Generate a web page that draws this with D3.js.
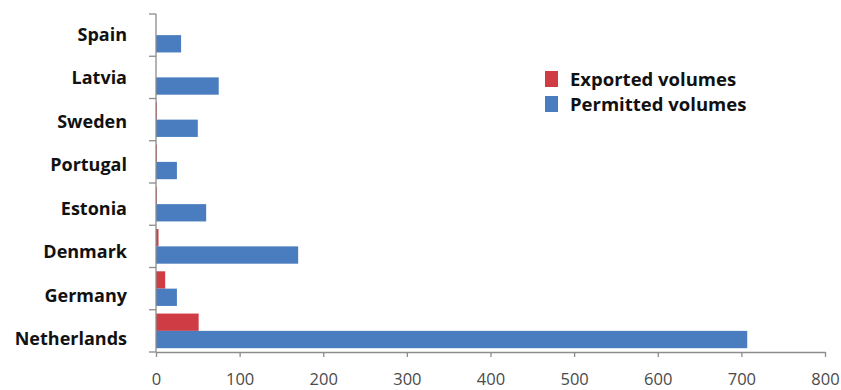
<!DOCTYPE html>
<html>
<head>
<meta charset="utf-8">
<script src="https://cdn.jsdelivr.net/npm/d3@7"></script>
<style>
  html, body { margin: 0; padding: 0; background: #fff; }
  svg { display: block; }
</style>
</head>
<body>
<svg id="chart" width="841" height="390"></svg>
<script>
// Countries, top to bottom
const countries = ["Spain", "Latvia", "Sweden", "Portugal", "Estonia", "Denmark", "Germany", "Netherlands"];
// Volumes per country
const exportedVolumes = [0, 0, 1, 1, 1, 3, 11, 51];
const permittedVolumes = [30, 75, 50, 25, 60, 170, 25, 707];
const seriesNames = ["Exported volumes", "Permitted volumes"];
const seriesColors = ["#cf3c44", "#4a7dc0"];
const xTicks = [0, 100, 200, 300, 400, 500, 600, 700, 800];

const svg = d3.select("#chart");
const plot = { left: 156, right: 825, top: 14, bottom: 352 };

const x = d3.scaleLinear().domain([0, 800]).range([plot.left, plot.right]);
const y = d3.scaleBand().domain(countries).range([plot.top, plot.bottom]).paddingInner(0).paddingOuter(0);
const inner = d3.scaleBand().domain(seriesNames).range([0, y.bandwidth()]).paddingInner(0).paddingOuter(0.22);
// Category labels sit on their own slightly wider spacing
const labelY = d3.scalePoint().domain(countries).range([34, 338]);

const rows = countries.map((c, i) => ({ country: c, values: [exportedVolumes[i], permittedVolumes[i]] }));

// Bars
const g = svg.append("g");
rows.forEach(r => {
  r.values.forEach((v, k) => {
    g.append("rect")
      .attr("x", x(0))
      .attr("y", y(r.country) + inner(seriesNames[k]))
      .attr("width", Math.max(0, x(v) - x(0)))
      .attr("height", inner.bandwidth())
      .attr("fill", seriesColors[k]);
  });
});

// Bottom axis
const xAxis = svg.append("g")
  .attr("transform", `translate(0,${plot.bottom})`)
  .call(d3.axisBottom(x).tickValues(xTicks).tickSize(5).tickSizeOuter(0).tickPadding(16));
xAxis.select(".domain").attr("stroke", "#8c8c8c").attr("stroke-width", 1.3);
xAxis.selectAll(".tick line").attr("stroke", "#8c8c8c").attr("stroke-width", 1.3);
xAxis.selectAll(".tick text")
  .attr("fill", "#4a4a4a")
  .style("font-family", "'Open Sans', sans-serif")
  .style("font-size", "16.5px");

// Left axis: ticks on band boundaries
const boundaries = countries.map(c => y(c)).concat([plot.bottom]);
svg.append("line")
  .attr("x1", plot.left).attr("x2", plot.left)
  .attr("y1", plot.top).attr("y2", plot.bottom)
  .attr("stroke", "#8c8c8c").attr("stroke-width", 1.3);
svg.append("g").selectAll("line").data(boundaries).join("line")
  .attr("x1", plot.left - 7).attr("x2", plot.left)
  .attr("y1", d => d).attr("y2", d => d)
  .attr("stroke", "#8c8c8c").attr("stroke-width", 1.3);

svg.append("g").selectAll("text").data(countries).join("text")
  .attr("x", 127)
  .attr("y", d => labelY(d))
  .attr("text-anchor", "end")
  .attr("dominant-baseline", "central")
  .style("font-family", "'Open Sans', sans-serif")
  .style("font-weight", "bold")
  .style("font-size", "18px")
  .attr("fill", "#111")
  .text(d => d);

// Legend
const legend = svg.append("g").attr("transform", "translate(545,71)");
seriesNames.forEach((n, k) => {
  const row = legend.append("g").attr("transform", `translate(0,${k * 25})`);
  row.append("rect").attr("x", 0).attr("y", 0).attr("width", 13).attr("height", 16).attr("fill", seriesColors[k]);
  row.append("text")
    .attr("x", 25).attr("y", 7.5)
    .attr("dominant-baseline", "central")
    .style("font-family", "'Open Sans', sans-serif")
    .style("font-weight", "bold")
    .style("font-size", "18.5px")
    .attr("fill", "#111")
    .text(n);
});
</script>
</body>
</html>
